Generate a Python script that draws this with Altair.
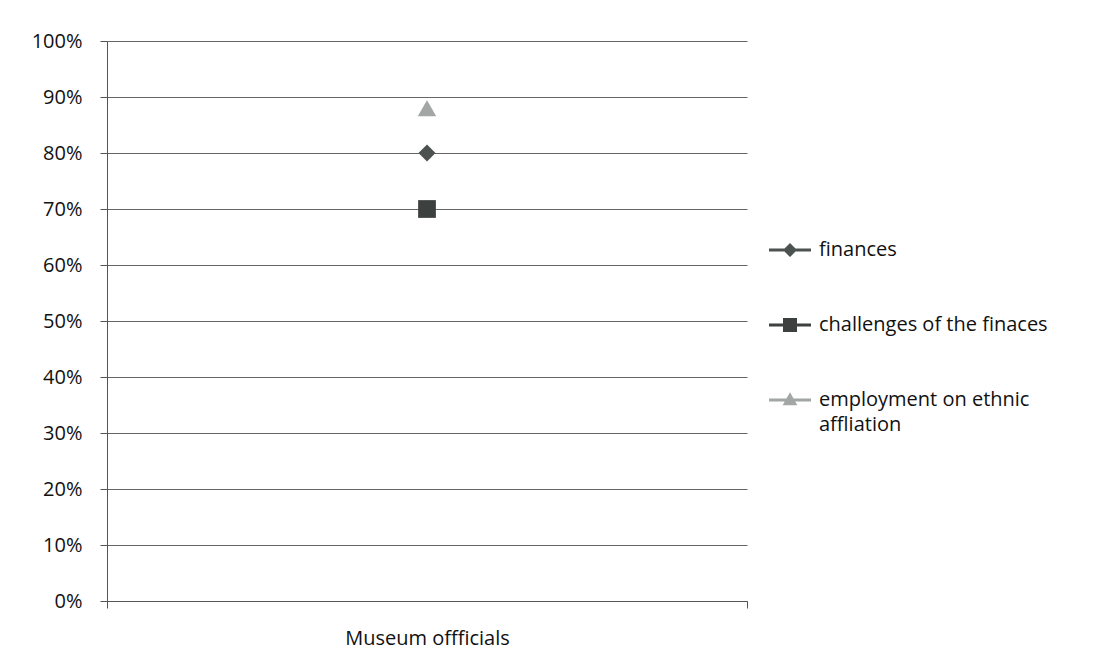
import altair as alt
import pandas as pd

categories = ["Museum offficials"]
series = ["finances", "challenges of the finaces", "employment on ethnic affliation"]
values = [0.80, 0.70, 0.88]
colors = ["#4b524f", "#3c403f", "#a2a6a5"]
shapes = ["diamond", "square", "triangle-up"]
marker_sizes = [290, 340, 380]
legend_paths = [
    "M-3,-0.2H3V0.2H-3Z M0,-1L1,0L0,1L-1,0Z",
    "M-3,-0.2H3V0.2H-3Z M-1,-1H1V1H-1Z",
    "M-3,-0.2H3V0.2H-3Z M0,-1.1L1.05,0.75H-1.05Z",
]

df = pd.DataFrame({
    "category": categories * len(series),
    "series": series,
    "value": values,
})

FONT = "Open Sans"

x_enc = alt.X("category:N", title=None,
              axis=alt.Axis(labelAngle=0, tickBand="extent", labelPadding=20, grid=False,
                            labelFontSize=20, labelFont=FONT, labelColor="#111",
                            domainColor="#555", tickColor="#555", tickSize=7))
y_enc = alt.Y("value:Q", title=None, scale=alt.Scale(domain=[0, 1], nice=False),
              axis=alt.Axis(format=".0%", values=[i / 10 for i in range(11)],
                            labelFontSize=20, labelFont=FONT, labelColor="#111",
                            labelPadding=18, tickSize=7, tickColor="#555",
                            domainColor="#555", gridColor="#555", gridWidth=1,
                            gridOpacity=0.9))

points = alt.Chart(df).mark_point(filled=True, opacity=1).encode(
    x=x_enc,
    y=y_enc,
    shape=alt.Shape("series:N", scale=alt.Scale(domain=series, range=shapes), legend=None),
    color=alt.Color("series:N", scale=alt.Scale(domain=series, range=colors), legend=None),
    size=alt.Size("series:N", scale=alt.Scale(domain=series, range=marker_sizes), legend=None),
)

legend_layer = alt.Chart(df).mark_point(filled=True, opacity=0, size=196).encode(
    x=x_enc,
    y=y_enc,
    shape=alt.Shape("series:N", scale=alt.Scale(domain=series, range=legend_paths),
                    legend=alt.Legend(title=None, orient="none", legendX=673, legendY=199,
                                      symbolOpacity=1, symbolSize=196, symbolStrokeWidth=0,
                                      labelFontSize=20, labelFont=FONT, labelColor="#111",
                                      labelOffset=19, rowPadding=55, labelLimit=320,
                                      labelExpr="datum.label == 'employment on ethnic affliation' ? ['employment on ethnic', 'affliation'] : datum.label")),
    color=alt.Color("series:N", scale=alt.Scale(domain=series, range=colors)),
)

chart = alt.layer(points, legend_layer).resolve_scale(
    shape="independent", color="independent"
).properties(
    width=640, height=560,
    autosize=alt.AutoSizeParams(type="none"),
    padding={"left": 99, "top": 33, "right": 361, "bottom": 51},
    view=alt.ViewBackground(stroke="transparent", strokeWidth=0),
).configure_view(stroke="transparent", strokeWidth=0).configure_axisX(
    grid=False
).configure(
    background="white",
    style={"guide-label": {"lineHeight": 25}},
)

chart.save("out.html", embed_options={"renderer": "svg", "actions": False})
